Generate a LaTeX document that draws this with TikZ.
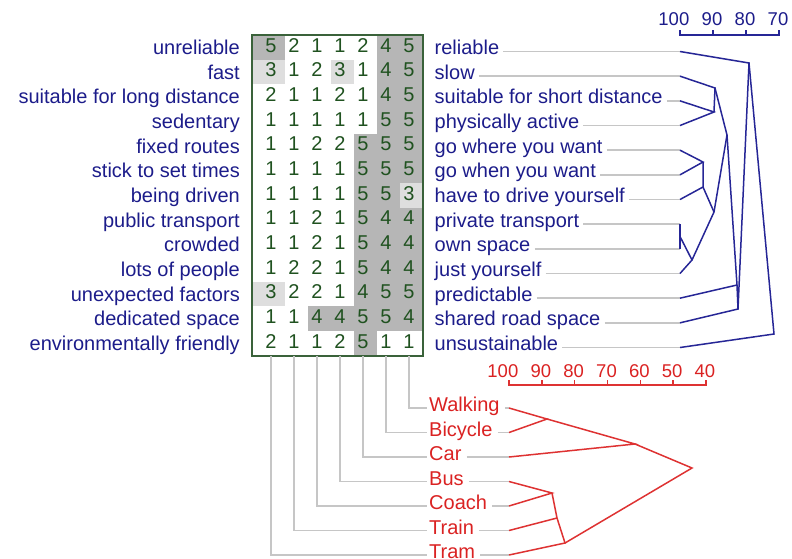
\documentclass[tikz,border=0pt]{standalone}
\usepackage{fontspec}
\setmainfont{Liberation Sans}
\usetikzlibrary{calc}

\definecolor{poleblue}{RGB}{28,28,138}
\definecolor{linkblue}{RGB}{38,38,150}
\definecolor{elemred}{RGB}{218,34,34}
\definecolor{linkred}{RGB}{222,50,50}
\definecolor{guidegray}{RGB}{198,198,198}
\definecolor{gridgreen}{RGB}{58,98,58}
\definecolor{numgreen}{RGB}{32,82,32}
\definecolor{darkcell}{RGB}{182,182,182}
\definecolor{lightcell}{RGB}{222,222,222}

\begin{document}
\begin{tikzpicture}[
    x=1pt, y=-1pt,
    txt/.style={font=\fontsize{20}{22}\selectfont, inner sep=0pt},
    pole/.style={txt, text=poleblue},
    elem/.style={txt, text=elemred},
    num/.style={txt, text=numgreen, anchor=base},
    scalelab/.style={font=\fontsize{18.5}{22}\selectfont, inner sep=0pt, anchor=base east},
    guide/.style={draw=guidegray, line width=1.4pt},
    clink/.style={draw=linkblue, line width=1.5pt},
    elink/.style={draw=linkred, line width=1.5pt}
  ]
  \useasboundingbox (0,0) rectangle (792,558);

  % Ratings grid
  \foreach \vals [count=\r] in {{5,2,1,1,2,4,5},{3,1,2,3,1,4,5},{2,1,1,2,1,4,5},
      {1,1,1,1,1,5,5},{1,1,2,2,5,5,5},{1,1,1,1,5,5,5},{1,1,1,1,5,5,3},
      {1,1,2,1,5,4,4},{1,1,2,1,5,4,4},{1,2,2,1,5,4,4},{3,2,2,1,4,5,5},
      {1,1,4,4,5,5,4},{2,1,1,2,5,1,1}} {
    \foreach \v [count=\c] in \vals {
      \pgfmathsetmacro\yt{35+24.667*(\r-1)}
      \pgfmathsetmacro\yb{\yt+24.667}
      \pgfmathsetmacro\xl{\c==1 ? 252 : 262+23*(\c-1)}
      \pgfmathsetmacro\xr{285+23*(\c-1)}
      \ifnum\v>3 \fill[darkcell] (\xl,\yt) rectangle (\xr,\yb); \fi
      \ifnum\v=3 \fill[lightcell] (\xl,\yt) rectangle (\xr,\yb); \fi
      \node[num] (g-\r-\c) at (271+23*\c-23, \yt+17) {\v};
    }
  }
  \draw[gridgreen, line width=1.5pt] (252,35) rectangle (423,356);
  \coordinate (gridbot) at (252,356);

  % Construct poles
  \foreach \t [count=\r] in {unreliable\ , fast, suitable for long distance\ ,
      sedentary, fixed routes, stick to set times, being driven,
      public transport, crowded, lots of people, unexpected factors,
      dedicated space\ , environmentally friendly}
    \node[pole, anchor=base east] (l\r) at (240, 54.5+24.667*\r-24.667) {\t};

  \foreach \t [count=\r] in {reliable\ , slow, suitable for short distance\ ,
      physically active\ , go where you want, go when you want,
      have to drive yourself, private transport, own space, just yourself,
      predictable, shared road space, unsustainable\ } {
    \node[pole, anchor=base west] (p\r) at (434.5, 54.5+24.667*\r-24.667) {\t};
    \coordinate (k\r) at (680, 51.5+24.667*\r-24.667);
    \draw[guide] ($(p\r.east |- k\r)+(4,0)$) -- (k\r);
  }

  % Construct tree
  \coordinate (c12) at (680,236.5);
  \coordinate (c11) at (692,260);
  \coordinate (c8) at (703,162);
  \coordinate (c9) at (703,187);
  \coordinate (c10) at (714,212);
  \coordinate (c7) at (714,112);
  \coordinate (c5) at (715,88);
  \coordinate (c4) at (727,135);
  \coordinate (c3) at (737,285);
  \coordinate (c2) at (738,309);
  \coordinate (c1) at (749,63);
  \coordinate (c0) at (774,334);
  \draw[clink] (k8) -- (k9);
  \draw[clink] (c12) -- (c11) -- (k10);
  \draw[clink] (k5) -- (c8) -- (k6);
  \draw[clink] (c8) -- (c9) -- (k7);
  \draw[clink] (c9) -- (c10) -- (c11);
  \draw[clink] (k3) -- (c7) -- (k4);
  \draw[clink] (k2) -- (c5) -- (c7);
  \draw[clink] (c5) -- (c4) -- (c10);
  \draw[clink] (c4) -- (c3) -- (k11);
  \draw[clink] (c3) -- (c2) -- (k12);
  \draw[clink] (k1) -- (c1) -- (c2);
  \draw[clink] (c1) -- (c0) -- (k13);

  % Construct scale
  \draw[clink] (680,30) -- (680,35) -- (779,35) -- (779,30);
  \draw[clink] (713,35) -- (713,30) (746,35) -- (746,30);
  \foreach \s [count=\i from 0] in {100,90,80,70}
    \node[scalelab, text=poleblue] (sr\i) at (689.5+33*\i, 25) {\s};

  % Elements
  \foreach \t/\c [count=\k] in {Walking/7, Bicycle/6, Car/5, Bus/4,
      Coach/3, Train/2, Tram/1} {
    \coordinate (m\k) at (509, 408+24.5*\k-24.5);
    \node[elem, anchor=base west] (w\k) at (429, 411.5+24.5*\k-24.5) {\t};
    \draw[guide] (g-13-\c |- gridbot) -- (g-13-\c |- m\k) -- ($(w\k.west |- m\k)+(-2,0)$);
    \draw[guide] ($(w\k.east |- m\k)+(5,0)$) -- (m\k);
  }

  % Element tree
  \coordinate (d1) at (547,419);
  \coordinate (d2) at (635,444);
  \coordinate (d3) at (552,493);
  \coordinate (d4) at (557,518);
  \coordinate (d5) at (565,543);
  \coordinate (d0) at (692,468);
  \draw[elink] (m1) -- (d1) -- (m2);
  \draw[elink] (d1) -- (d2) -- (m3);
  \draw[elink] (m4) -- (d3) -- (m5);
  \draw[elink] (d3) -- (d4) -- (m6);
  \draw[elink] (d4) -- (d5) -- (m7);
  \draw[elink] (d2) -- (d0) -- (d5);

  % Element scale
  \draw[elink] (509,380) -- (509,385) -- (706,385) -- (706,380);
  \foreach \i in {1,...,5}
    \draw[elink] (509+32.83*\i,385) -- (509+32.83*\i,380);
  \foreach \s [count=\i from 0] in {100,90,80,70,60,50,40}
    \node[scalelab, text=elemred] (sb\i) at (518.5+32.83*\i, 377) {\s};
\end{tikzpicture}
\end{document}
